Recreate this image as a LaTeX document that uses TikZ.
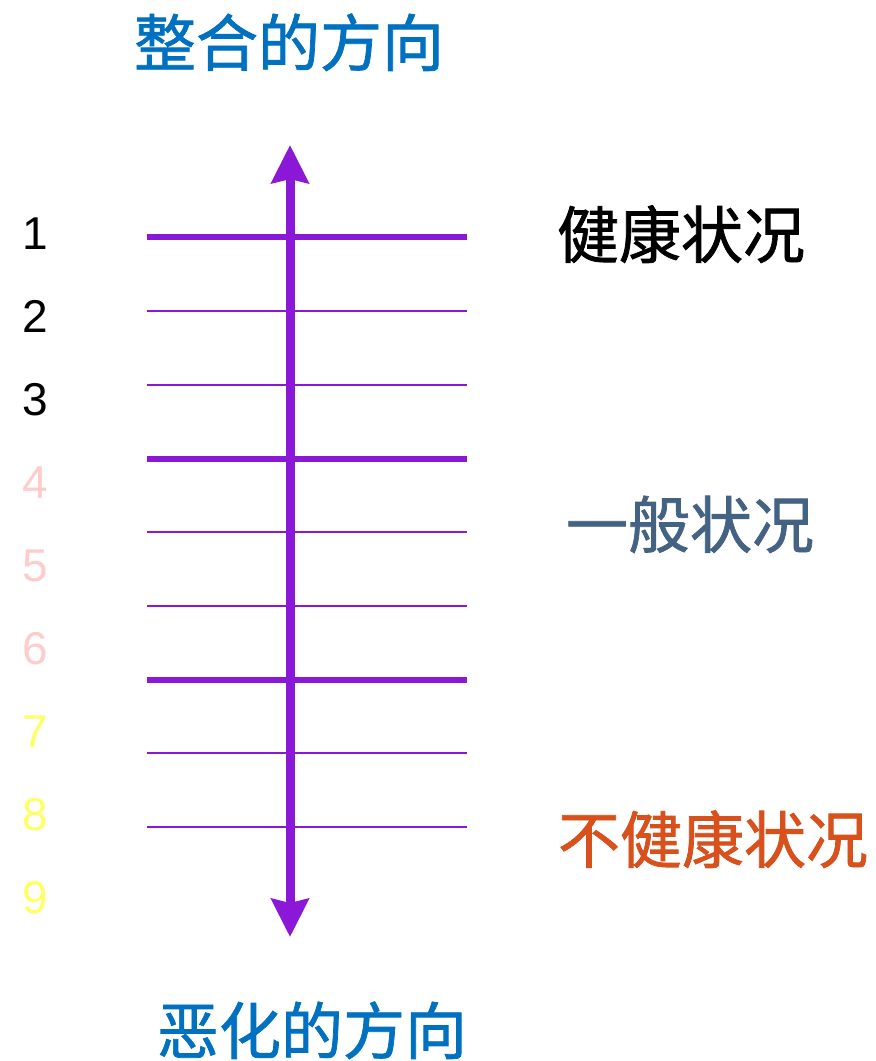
\documentclass[tikz,border=0pt]{standalone}
\usepackage{fontspec}
\setmainfont{Liberation Sans}
\newfontfamily\cjk[FakeBold=1.2]{Noto Sans CJK SC}
\usetikzlibrary{arrows.meta}
\definecolor{vio}{RGB}{138,24,214}
\definecolor{tblue}{RGB}{0,112,192}
\definecolor{slate}{RGB}{68,98,130}
\definecolor{orng}{RGB}{216,80,28}
\definecolor{pinkn}{RGB}{255,204,204}
\definecolor{yelln}{RGB}{255,255,102}
\tikzset{
  cjklabel/.style={anchor=base,inner sep=0pt,font=\cjk\fontsize{62}{70}\selectfont},
  numlabel/.style={anchor=base,inner sep=0pt,font=\fontsize{46}{50}\selectfont},
  thickrung/.style={draw=vio,line width=6pt},
  thinrung/.style={draw=vio,line width=1.5pt},
  mainarrow/.style={draw=vio,line width=9pt,{Stealth[width=37pt,length=38pt,inset=4pt]}-{Stealth[width=37pt,length=38pt,inset=4pt]}}
}
\begin{document}
\begin{tikzpicture}[x=1pt,y=-1pt]
\useasboundingbox (0,0) rectangle (876,1061);
% rungs
\foreach \yy/\st in {237/thickrung,311/thinrung,385/thinrung,459/thickrung,532/thinrung,606/thinrung,680/thickrung,753/thinrung,827/thinrung}{
  \coordinate (l\yy) at (147,\yy);
  \coordinate (r\yy) at (467,\yy);
  \draw[\st] (l\yy) -- (r\yy);
}
% vertical arrow
\coordinate (atop) at (290,145);
\coordinate (abot) at (290,937);
\draw[mainarrow] (abot) -- (atop);
% titles
\node[cjklabel,text=tblue] (ttop) at (289,66) {整合的方向};
\node[cjklabel,text=tblue] (tbot) at (312,1054) {恶化的方向};
\node[cjklabel,text=black] (s1) at (681,258) {健康状况};
\node[cjklabel,text=slate] (s2) at (690,548) {一般状况};
\node[cjklabel,text=orng] (s3) at (713,863) {不健康状况};
% numbers
\node[numlabel,text=black] (n1) at (35,249) {1};
\node[numlabel,text=black] (n2) at (35,332) {2};
\node[numlabel,text=black] (n3) at (35,415) {3};
\node[numlabel,text=pinkn] (n4) at (35,498) {4};
\node[numlabel,text=pinkn] (n5) at (35,581) {5};
\node[numlabel,text=pinkn] (n6) at (35,664) {6};
\node[numlabel,text=yelln] (n7) at (35,747) {7};
\node[numlabel,text=yelln] (n8) at (35,830) {8};
\node[numlabel,text=yelln] (n9) at (35,913) {9};
\end{tikzpicture}
\end{document}
